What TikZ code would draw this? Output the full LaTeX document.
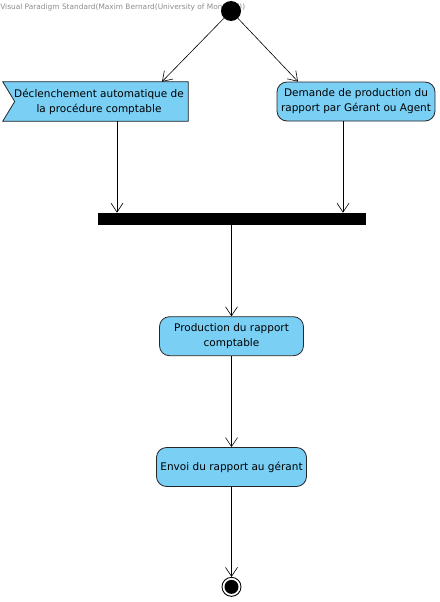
\documentclass[tikz,border=0pt]{standalone}
\usepackage{fontspec}
\setmainfont{DejaVu Sans}
\usepackage{tikz}
\usetikzlibrary{arrows.meta,positioning,backgrounds}
\definecolor{actblue}{RGB}{122,207,245}
\definecolor{wmgray}{RGB}{140,140,140}
\tikzstyle{init}=[circle,fill=black,inner sep=0pt,minimum size=20pt]
\tikzstyle{fin}=[circle,draw=black,fill=white,line width=0.9pt,inner sep=0pt,minimum size=19pt,
  path picture={\fill[black] (path picture bounding box.center) circle (7pt);}]
\tikzstyle{act}=[rectangle,rounded corners=10pt,draw=black!85,fill=actblue,line width=0.8pt,
  minimum height=39pt,inner sep=2pt,align=center,font=\fontsize{10.5}{15}\selectfont]
\tikzstyle{sig}=[rectangle,minimum height=39pt,minimum width=185pt,inner sep=2pt,align=center,
  font=\fontsize{10.5}{15}\selectfont]
\tikzstyle{bar}=[rectangle,fill=black,inner sep=0pt,minimum width=268pt,minimum height=12pt]

\begin{document}
\begin{tikzpicture}
[-{Straight Barb[length=9pt,width=12pt]},line width=0.6pt,x=1pt,y=1pt]
\useasboundingbox (0,0) rectangle (439,-602);
\node[anchor=west,text=wmgray,inner sep=0pt,font=\fontsize{7.4}{8}\selectfont] (0) at (0,-7) {Visual Paradigm Standard(Maxim Bernard(University of Montreal))};
\node[init] (1) at (231,-11) {};
\node[sig] (2) at (95.5,-101.5) {\hspace*{7pt}D\'eclenchement automatique de\\\hspace*{7pt}la proc\'edure comptable};
\begin{scope}[on background layer]
\filldraw[-,draw=black!85,fill=actblue,line width=0.8pt]
  (2.north west) -- (2.north east) -- (2.south east) -- (2.south west)
  -- ([xshift=12pt]2.west) -- cycle;
\end{scope}
\node[act,minimum width=158pt] (3) at (356,-101.5) {Demande de production du\\rapport par G\'erant ou Agent};
\node[bar] (4) at (231.5,-219) {};
\node[act,minimum width=144pt] (5) [below=91pt of 4] {Production du rapport\\comptable};
\node[act,minimum width=150pt] (6) [below=91pt of 5] {Envoi du rapport au g\'erant};
\node[fin] (7) [below=90pt of 6] {};
\path[]
   (1) edge node {} ([xshift=66.5pt]2.north)
   (1) edge node {} ([xshift=-58pt]3.north)
   ([xshift=21.5pt]2.south) edge node {} ([xshift=21.5pt]2.south |- 4.north)
   ([xshift=-13pt]3.south) edge node {} ([xshift=-13pt]3.south |- 4.north)
   (4) edge node {} (5)
   (5) edge node {} (6)
   (6) edge node {} (7);
\end{tikzpicture}
\end{document}
